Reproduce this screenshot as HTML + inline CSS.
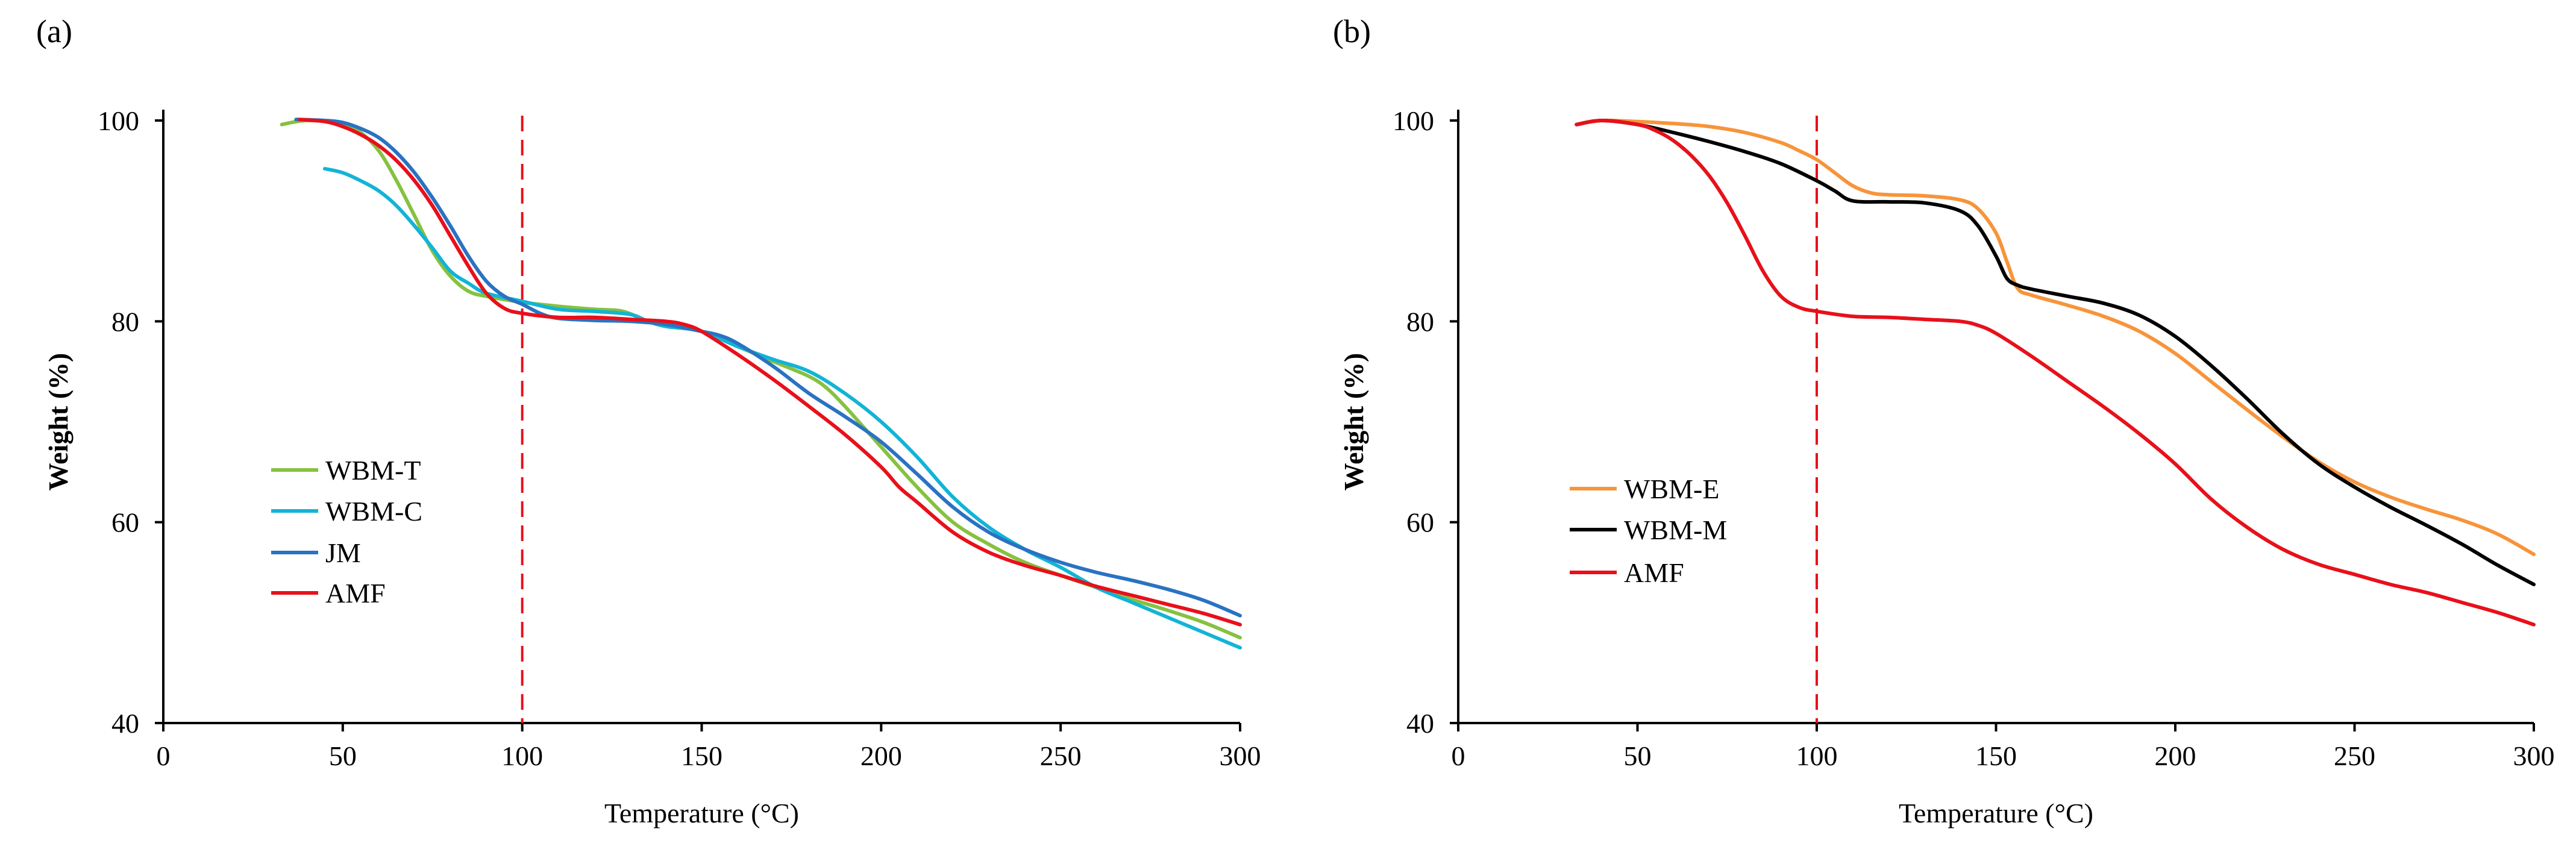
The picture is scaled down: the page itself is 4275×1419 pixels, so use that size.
<!DOCTYPE html>
<html><head><meta charset="utf-8"><style>
html,body{margin:0;padding:0;background:#fff;}
svg{display:block;font-family:"Liberation Serif",serif;}
</style></head><body>
<svg id="fig" width="4275" height="1419" viewBox="0 0 4275 1419" xmlns="http://www.w3.org/2000/svg"></svg>
<script>
const xTicks=[0,50,100,150,200,250,300];
const yTicks=[40,60,80,100];
const aNames=["WBM-T","WBM-C","JM","AMF"];
const aColors=["#86c140","#12b4d6","#2a72c2","#e8101a"];
const aT_x=[33,40,50,55,60,65,70,75,80,85,90,100,110,120,128,135,140,150,160,170,180,185,190,195,200,210,220,230,240,250,260,270,280,290,300];
const aT_y=[99.6,100,99.7,98.8,97,94,90.5,87,84.5,83,82.5,81.9,81.5,81.2,81,80,79.6,79,77.5,76,74.5,73.3,71.5,69.5,67.5,63.5,60,57.8,56,54.7,53.5,52.3,51.2,50,48.5];
const aC_x=[45,50,55,60,65,70,75,80,85,90,100,110,120,130,135,140,150,160,170,180,190,200,210,220,230,240,250,260,270,280,290,300];
const aC_y=[95.2,94.8,94,93,91.5,89.5,87.3,85,83.8,82.8,82,81.2,81,80.7,80,79.5,79,77.5,76.2,75,72.8,70,66.5,62.5,59.5,57.3,55.5,53.5,52,50.5,49,47.5];
const aJ_x=[37,45,50,55,60,65,70,75,80,85,90,95,100,105,110,120,130,140,150,155,160,170,180,190,200,210,220,230,240,250,260,270,280,290,300];
const aJ_y=[100.1,100,99.8,99.2,98.3,96.8,94.8,92.3,89.5,86.5,84,82.5,81.7,80.8,80.3,80.1,80,79.7,79,78.6,77.8,75.5,72.8,70.5,68,64.8,61.5,59,57.3,56,55,54.2,53.3,52.2,50.7];
const aA_x=[38,45,50,55,60,65,70,75,80,85,90,95,100,110,120,130,140,145,150,160,170,180,190,200,205,210,220,230,240,250,260,270,280,290,300];
const aA_y=[100.1,99.9,99.4,98.6,97.5,96,94,91.5,88.5,85.5,82.8,81.3,80.8,80.4,80.4,80.2,80,79.7,79,76.7,74.2,71.5,68.7,65.5,63.5,62,59,57,55.7,54.7,53.6,52.7,51.8,50.9,49.8];
const bNames=["WBM-E","WBM-M","AMF"];
const bColors=["#f7943a","#000000","#e8101a"];
const bE_x=[33,40,50,60,70,80,90,95,100,105,110,115,120,130,140,145,150,153,156,160,170,180,190,200,210,220,230,240,250,260,270,280,290,300];
const bE_y=[99.6,100,99.9,99.7,99.4,98.8,97.8,97,96.1,94.8,93.5,92.8,92.6,92.5,92.1,91.2,88.8,86,83.3,82.6,81.6,80.5,79,76.8,74,71.2,68.5,66,64,62.5,61.3,60.2,58.8,56.8];
const bM_x=[33,40,50,60,70,80,90,100,105,110,120,130,140,145,150,153,156,160,170,180,190,200,210,220,230,240,250,260,270,280,290,300];
const bM_y=[99.6,100,99.6,98.8,97.9,96.9,95.7,94,93,92,91.9,91.8,91,89.5,86.5,84.3,83.6,83.2,82.5,81.8,80.6,78.5,75.6,72.3,68.8,65.8,63.5,61.5,59.7,57.8,55.7,53.8];
const bA_x=[33,40,50,55,60,65,70,75,80,85,90,95,100,110,120,130,140,145,150,160,170,180,190,200,210,220,230,240,250,260,270,280,290,300];
const bA_y=[99.6,100,99.6,99,98,96.5,94.5,91.8,88.5,85,82.5,81.4,81,80.5,80.4,80.2,80,79.6,78.8,76.5,74,71.5,68.8,65.8,62.3,59.5,57.3,55.8,54.8,53.8,53,52,51,49.8];
const dashX=100;

const NS="http://www.w3.org/2000/svg";
const svg=document.getElementById('fig');
function mk(tag,attrs,parent){const e=document.createElementNS(NS,tag);for(const k in attrs)e.setAttribute(k,attrs[k]);(parent||svg).appendChild(e);return e;}
function pathD(xs,ys,X,Y){
  const p=xs.map((x,i)=>[X(x),Y(ys[i])]);
  let d="M"+p[0][0].toFixed(1)+","+p[0][1].toFixed(1);
  for(let i=0;i<p.length-1;i++){
    const p0=p[Math.max(0,i-1)],p1=p[i],p2=p[i+1],p3=p[Math.min(p.length-1,i+2)];
    const c1x=p1[0]+(p2[0]-p0[0])/6,c1y=p1[1]+(p2[1]-p0[1])/6;
    const c2x=p2[0]-(p3[0]-p1[0])/6,c2y=p2[1]-(p3[1]-p1[1])/6;
    d+=" C"+c1x.toFixed(1)+","+c1y.toFixed(1)+" "+c2x.toFixed(1)+","+c2y.toFixed(1)+" "+p2[0].toFixed(1)+","+p2[1].toFixed(1);
  }
  return d;
}
function panel(cfg){
  const g=mk('g',{});
  
  
  const X=v=>cfg.x0+(v-0)/300*(cfg.x1-cfg.x0);
  const Y=v=>1200-(v-40)/60*1000;
  const lab=mk('text',{x:cfg.labX,y:70,'font-size':54,fill:'#000'},g);lab.textContent=cfg.label;
  
  
  // axes
  const ya=mk('line',{x1:X(0),y1:182,x2:X(0),y2:1202,stroke:'#000','stroke-width':4},g);
  
  
  const xa=mk('line',{x1:X(0)-14,y1:1200,x2:X(300),y2:1200,stroke:'#000','stroke-width':4},g);
  
  
  yTicks.forEach(t=>{
    mk('line',{x1:X(0)-14,y1:Y(t),x2:X(0),y2:Y(t),stroke:'#000','stroke-width':4},g);
    const tx=mk('text',{x:X(0)-40,y:Y(t)+16,'font-size':46,'text-anchor':'end',fill:'#000'},g);
    tx.textContent=t;
    
    
  });
  xTicks.forEach(t=>{
    mk('line',{x1:X(t),y1:1200,x2:X(t),y2:1214,stroke:'#000','stroke-width':4},g);
    const tx=mk('text',{x:X(t),y:1270,'font-size':46,'text-anchor':'middle',fill:'#000'},g);
    tx.textContent=t;
    
    
  });
  const xt=mk('text',{x:(X(0)+X(300))/2,y:1365,'font-size':46,'text-anchor':'middle',fill:'#000'},g);
  xt.textContent='Temperature (°C)';
  
  
  const yt=mk('text',{x:0,y:0,'font-size':46,'text-anchor':'middle','font-weight':'bold',fill:'#000',transform:`translate(${cfg.ytX},700) rotate(-90)`},g);
  yt.textContent='Weight (%)';
  
  
  const dl=mk('line',{x1:X(dashX),y1:192,x2:X(dashX),y2:1200,stroke:'#e8101a','stroke-width':4,'stroke-dasharray':'26,14'},g);
  
  
  cfg.series.forEach((s,i)=>{
    const p=mk('path',{d:pathD(s[0],s[1],X,Y),fill:'none',stroke:cfg.colors[i],'stroke-width':6,'stroke-linejoin':'round','stroke-linecap':'round'},g);
    
    
  });
  cfg.names.forEach((n,i)=>{
    const ly=cfg.legY[i];
    const le=mk('g',{},g);
    
    
    mk('line',{x1:cfg.legX,y1:ly,x2:cfg.legX+78,y2:ly,stroke:cfg.colors[i],'stroke-width':6},le);
    const t=mk('text',{x:cfg.legX+90,y:ly+16,'font-size':46,fill:'#000'},le);
    t.textContent=n;
  });
}
panel({id:'panel-a',label:'(a)',labX:60,x0:271,x1:2058,ytX:112,names:aNames,colors:aColors,
  series:[[aT_x,aT_y],[aC_x,aC_y],[aJ_x,aJ_y],[aA_x,aA_y]],legX:450,legY:[780,848,917,984]});
panel({id:'panel-b',label:'(b)',labX:2212,x0:2420,x1:4205,ytX:2262,names:bNames,colors:bColors,
  series:[[bE_x,bE_y],[bM_x,bM_y],[bA_x,bA_y]],legX:2605,legY:[811,879,950]});
</script>
</body></html>
